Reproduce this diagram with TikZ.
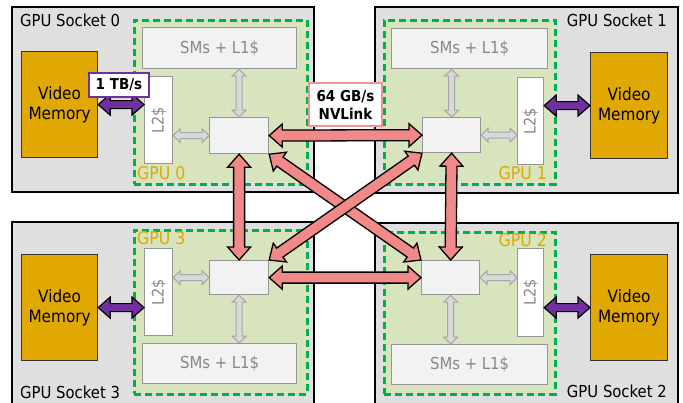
\documentclass[tikz,border=0pt]{standalone}
\usepackage{fontspec}
\setmainfont{DejaVu Sans Condensed}
\usepackage{graphicx}
\usetikzlibrary{calc}
\definecolor{sockfill}{RGB}{223,223,223}
\definecolor{gpufill}{RGB}{215,228,189}
\definecolor{gpugreen}{RGB}{0,176,80}
\definecolor{vmgold}{RGB}{224,168,0}
\definecolor{smfill}{RGB}{242,242,242}
\definecolor{smdraw}{RGB}{150,150,150}
\definecolor{smtext}{RGB}{135,135,135}
\definecolor{nvpurple}{RGB}{112,48,160}
\definecolor{nvpink}{RGB}{242,137,137}
\definecolor{nvpinkline}{RGB}{238,150,150}
\definecolor{grayarrfill}{RGB}{217,217,217}
\definecolor{grayarrdraw}{RGB}{166,166,166}
\newcommand\rbox[7]{\node[#1,anchor=north west,inner sep=0pt,minimum width={(#4-#2)*1pt},minimum height={(#5-#3)*1pt}] (#6) at (#2,#3) {#7};}
\newcommand\fatarrow[6]{%
 \draw[#1] let \p1=(#2), \p2=(#3), \n1={atan2(\y2-\y1,\x2-\x1)} in
  (\p1) -- ($(\p1)+(\n1:#6)+(\n1+90:#5)$) -- ($(\p1)+(\n1:#6)+(\n1+90:#4)$)
  -- ($(\p2)+(\n1+180:#6)+(\n1+90:#4)$) -- ($(\p2)+(\n1+180:#6)+(\n1+90:#5)$)
  -- (\p2) -- ($(\p2)+(\n1+180:#6)+(\n1-90:#5)$) -- ($(\p2)+(\n1+180:#6)+(\n1-90:#4)$)
  -- ($(\p1)+(\n1:#6)+(\n1-90:#4)$) -- ($(\p1)+(\n1:#6)+(\n1-90:#5)$) -- cycle;}
\tikzset{
  socket/.style={draw=black,line width=2pt,fill=sockfill},
  gpubox/.style={draw=gpugreen,line width=2.5pt,dash pattern=on 7pt off 4pt,fill=gpufill},
  smbox/.style={draw=smdraw,line width=1.2pt,fill=smfill,text=smtext,font=\fontsize{16.5}{19}\selectfont},
  l2box/.style={draw=smdraw,line width=1.2pt,fill=white},
  swbox/.style={draw=smdraw,line width=1.2pt,fill=smfill},
  vmbox/.style={draw=black!80,line width=1.2pt,fill=vmgold,align=center,font=\fontsize{17}{20.5}\selectfont},
  socklabel/.style={inner sep=0pt,font=\fontsize{16.5}{19}\selectfont},
  gpulabel/.style={inner sep=0pt,text=vmgold,font=\fontsize{17.5}{20}\selectfont},
  l2text/.style={inner sep=0pt,text=smtext,rotate=90,font=\fontsize{16}{18}\selectfont},
  grayarr/.style={draw=grayarrdraw,fill=grayarrfill,line width=1pt},
  purparr/.style={draw=black,fill=nvpurple,line width=1.2pt},
  pinkarr/.style={draw=black,fill=nvpink,line width=1.3pt},
  bwbox/.style={fill=white,line width=2pt,align=center,font=\bfseries\fontsize{15}{18}\selectfont},
}
\begin{document}
\begin{tikzpicture}[x=1pt,y=-1pt]
\useasboundingbox (0,0) rectangle (683,402);
% sockets
\rbox{socket}{11}{6}{313}{191}{s0}{}
\rbox{socket}{374}{6}{677}{192}{s1}{}
\rbox{socket}{11}{221}{313}{412}{s3}{}
\rbox{socket}{374}{222}{677}{412}{s2}{}
% GPU areas
\rbox{gpubox}{133}{19}{306}{183}{g0}{}
\rbox{gpubox}{383}{19}{554}{183}{g1}{}
\rbox{gpubox}{133}{229}{306}{393}{g3}{}
\rbox{gpubox}{383}{231}{554}{393}{g2}{}
% SMs
\rbox{smbox}{142}{27}{296}{68}{sm0}{SMs + L1\$}
\rbox{smbox}{391}{28}{547}{68}{sm1}{SMs + L1\$}
\rbox{smbox}{142}{343}{296}{383}{sm3}{SMs + L1\$}
\rbox{smbox}{391}{344}{547}{384}{sm2}{SMs + L1\$}
% L2
\rbox{l2box}{144}{76}{172}{163}{l20}{}
\rbox{l2box}{517}{77}{543}{164}{l21}{}
\rbox{l2box}{144}{248}{172}{335}{l23}{}
\rbox{l2box}{517}{248}{543}{336}{l22}{}
\node[l2text] at (l20.center) {L2\$};
\node[l2text] at (l21.center) {L2\$};
\node[l2text] at (l23.center) {L2\$};
\node[l2text] at (l22.center) {L2\$};
% switches
\rbox{swbox}{209}{117}{268}{153}{sw0}{}
\rbox{swbox}{422}{117}{480}{152}{sw1}{}
\rbox{swbox}{209}{260}{268}{294}{sw3}{}
\rbox{swbox}{421}{260}{479}{294}{sw2}{}
% video memory
\rbox{vmbox}{21}{51}{97}{157}{vm0}{Video\\Memory}
\rbox{vmbox}{590}{52}{667}{158}{vm1}{Video\\Memory}
\rbox{vmbox}{21}{254}{97}{360}{vm3}{Video\\Memory}
\rbox{vmbox}{590}{254}{667}{360}{vm2}{Video\\Memory}
% labels
\node[socklabel,anchor=west] (ls0) at (20,20) {GPU Socket 0};
\node[socklabel,anchor=east] (ls1) at (667,20) {GPU Socket 1};
\node[socklabel,anchor=west] (ls3) at (20,392) {GPU Socket 3};
\node[socklabel,anchor=east] (ls2) at (667,391) {GPU Socket 2};
\node[gpulabel,anchor=west] (lg0) at (137,173) {GPU 0};
\node[gpulabel,anchor=east] (lg1) at (547,173) {GPU 1};
\node[gpulabel,anchor=west] (lg3) at (137,238) {GPU 3};
\node[gpulabel,anchor=east] (lg2) at (547,240) {GPU 2};
% gray arrows
\fatarrow{grayarr}{sw0.north}{sw0.north |- sm0.south}{3pt}{7pt}{7pt}
\fatarrow{grayarr}{sw1.north}{sw1.north |- sm1.south}{3pt}{7pt}{7pt}
\fatarrow{grayarr}{sw3.south}{sw3.south |- sm3.north}{3pt}{7pt}{7pt}
\fatarrow{grayarr}{sw2.south}{sw2.south |- sm2.north}{3pt}{7pt}{7pt}
\fatarrow{grayarr}{sw0.west}{sw0.west -| l20.east}{3pt}{7pt}{7pt}
\fatarrow{grayarr}{sw1.east}{sw1.east -| l21.west}{3pt}{7pt}{7pt}
\fatarrow{grayarr}{sw3.west}{sw3.west -| l23.east}{3pt}{7pt}{7pt}
\fatarrow{grayarr}{sw2.east}{sw2.east -| l22.west}{3pt}{7pt}{7pt}
% purple arrows
\fatarrow{purparr}{vm0.east}{vm0.east -| l20.west}{4pt}{10.5pt}{12pt}
\fatarrow{purparr}{vm1.west}{vm1.west -| l21.east}{4pt}{10.5pt}{12pt}
\fatarrow{purparr}{vm3.east}{vm3.east -| l23.west}{4pt}{10.5pt}{12pt}
\fatarrow{purparr}{vm2.west}{vm2.west -| l22.east}{4pt}{10.5pt}{12pt}
% NVLink arrows
\fatarrow{pinkarr}{sw0.south}{sw3.north}{5.5pt}{11.5pt}{13pt}
\fatarrow{pinkarr}{sw1.south}{sw2.north}{5.5pt}{11.5pt}{13pt}
\fatarrow{pinkarr}{sw0.east}{sw1.west}{5.5pt}{11.5pt}{13pt}
\fatarrow{pinkarr}{sw3.east}{sw2.west}{5.5pt}{11.5pt}{13pt}
\fatarrow{pinkarr}{sw0.south east}{sw2.north west}{5.5pt}{11.5pt}{13pt}
\fatarrow{pinkarr}{sw1.south west}{sw3.north east}{5.5pt}{11.5pt}{13pt}
% bandwidth labels
\rbox{bwbox,draw=nvpurple}{88}{72}{148}{96}{tb}{1 TB/s}
\rbox{bwbox,draw=nvpinkline}{308}{82}{381}{125}{nvl}{64 GB/s\\NVLink}
\end{tikzpicture}
\end{document}
